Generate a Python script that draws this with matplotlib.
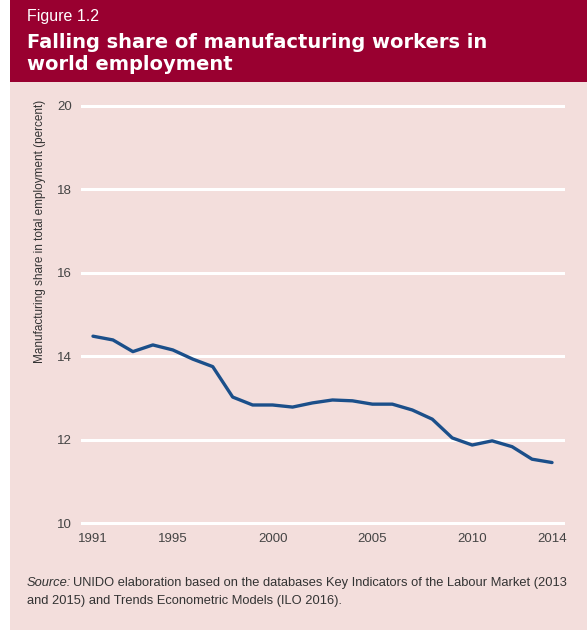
import matplotlib.pyplot as plt
from matplotlib.patches import Rectangle

years = list(range(1991, 2015))
share = [14.48, 14.39, 14.11, 14.27, 14.15, 13.93, 13.75, 13.02, 12.83, 12.83,
         12.78, 12.88, 12.95, 12.93, 12.85, 12.85, 12.71, 12.49, 12.04, 11.87,
         11.97, 11.83, 11.53, 11.45]
xticks = [1991, 1995, 2000, 2005, 2010, 2014]
yticks = [10, 12, 14, 16, 18, 20]

red = '#990030'
pink = '#F3DEDC'
blue = '#1B4F8A'
narrow = ['Liberation Sans Narrow', 'Liberation Sans', 'DejaVu Sans']

W, H = 587, 630
fig = plt.figure(figsize=(W / 100, H / 100), dpi=100)
fig.patch.set_facecolor('white')

# background panel and header band
fig.add_artist(Rectangle((10 / W, 0), 1 - 10 / W, 1 - 82 / H, transform=fig.transFigure,
                         facecolor=pink, edgecolor='none', zorder=0))
fig.add_artist(Rectangle((10 / W, 1 - 82 / H), 1 - 10 / W, 82 / H, transform=fig.transFigure,
                         facecolor=red, edgecolor='none', zorder=0))

fig.text(27 / W, 1 - 17 / H, 'Figure 1.2', color='white', fontsize=11.5,
         family=narrow, va='center', ha='left')
fig.text(27 / W, 1 - 42 / H, 'Falling share of manufacturing workers in', color='white',
         fontsize=14, fontweight='heavy', family=['DejaVu Sans'], va='center', ha='left')
fig.text(27 / W, 1 - 64 / H, 'world employment', color='white',
         fontsize=14, fontweight='heavy', family=['DejaVu Sans'], va='center', ha='left')

ax = fig.add_axes([82 / W, 1 - 523 / H, (563 - 82) / W, (523 - 106) / H])
ax.set_facecolor('none')
for s in ax.spines.values():
    s.set_visible(False)

for y in yticks:
    ax.axhline(y, color='white', lw=2.2, zorder=1, clip_on=False)

ax.plot(years, share, color=blue, lw=2.4, solid_capstyle='round', zorder=3)

ax.set_xlim(1990.45, 2014.55)
ax.set_ylim(10, 20)
ax.set_xticks(xticks)
ax.set_yticks(yticks)
ax.tick_params(length=0, labelsize=9.5, colors='#444444', pad=7)
for lab in ax.get_xticklabels() + ax.get_yticklabels():
    lab.set_family(narrow)

fig.text(40 / W, 1 - 100 / H, 'Manufacturing share in total employment (percent)',
         rotation=90, fontsize=8.5, family=narrow, color='#333333', va='top', ha='center')

# source note: italic lead-in followed by the plain text
src = fig.text(27 / W, 1 - 583 / H, 'Source:', fontsize=9.3, style='italic',
               family=narrow, color='#333333', va='center', ha='left')
fig.canvas.draw()
bb = src.get_window_extent()
fig.text((bb.x1 + 2) / W, 1 - 583 / H,
         'UNIDO elaboration based on the databases Key Indicators of the Labour Market (2013',
         fontsize=9.3, family=narrow, color='#333333', va='center', ha='left')
fig.text(27 / W, 1 - 601 / H, 'and 2015) and Trends Econometric Models (ILO 2016).',
         fontsize=9.3, family=narrow, color='#333333', va='center', ha='left')

fig.savefig('out.png', dpi=100)
